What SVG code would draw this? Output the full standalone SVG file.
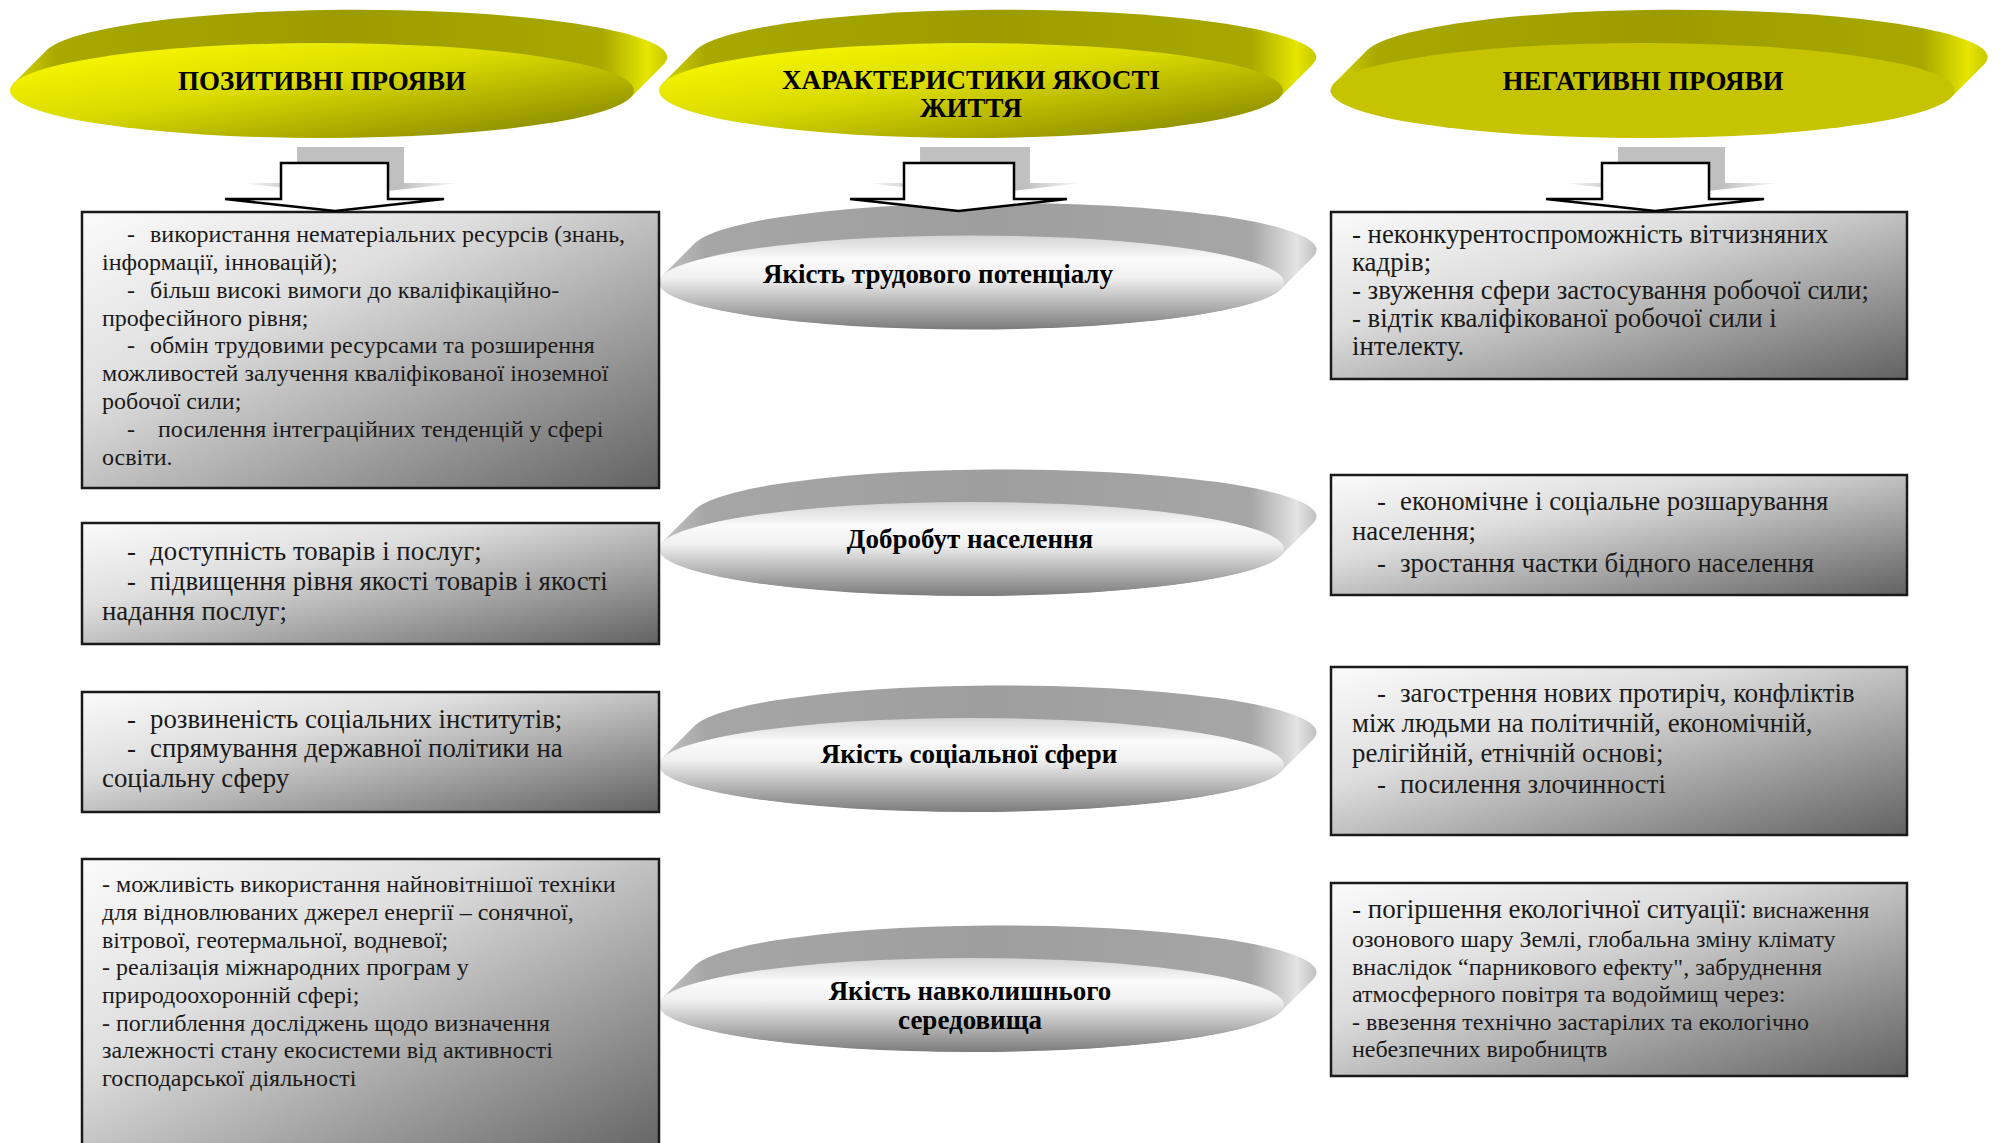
<svg xmlns="http://www.w3.org/2000/svg" width="1999" height="1143" viewBox="0 0 1999 1143">
<defs>
<linearGradient id="yFront" x1="0" y1="0" x2="1" y2="1">
<stop offset="0" stop-color="#ffff00"/><stop offset="0.45" stop-color="#dada00"/><stop offset="1" stop-color="#7a7a00"/>
</linearGradient>
<linearGradient id="yExt" x1="0" y1="0" x2="1" y2="0">
<stop offset="0" stop-color="#d8d800"/><stop offset="0.07" stop-color="#a8a800"/><stop offset="0.5" stop-color="#9c9c00"/><stop offset="0.9" stop-color="#a8a800"/><stop offset="0.97" stop-color="#e6e600"/><stop offset="1" stop-color="#c8c800"/>
</linearGradient>
<linearGradient id="gFront" x1="0" y1="0" x2="0" y2="1">
<stop offset="0" stop-color="#d4d4d4"/><stop offset="0.25" stop-color="#fbfbfb"/><stop offset="0.45" stop-color="#f0f0f0"/><stop offset="1" stop-color="#7c7c7c"/>
</linearGradient>
<linearGradient id="gExt" x1="0" y1="0" x2="1" y2="0">
<stop offset="0" stop-color="#c4c4c4"/><stop offset="0.07" stop-color="#a6a6a6"/><stop offset="0.5" stop-color="#9e9e9e"/><stop offset="0.9" stop-color="#a6a6a6"/><stop offset="0.97" stop-color="#e4e4e4"/><stop offset="1" stop-color="#c0c0c0"/>
</linearGradient>
<linearGradient id="boxFill" x1="0" y1="0" x2="1" y2="1">
<stop offset="0" stop-color="#fbfbfb"/><stop offset="0.35" stop-color="#dedede"/><stop offset="1" stop-color="#626262"/>
</linearGradient>
<linearGradient id="shadowFill" x1="0" y1="0" x2="1" y2="0">
<stop offset="0" stop-color="#c0c0c0" stop-opacity="0"/><stop offset="0.26" stop-color="#c0c0c0"/><stop offset="0.74" stop-color="#c0c0c0"/><stop offset="1" stop-color="#c0c0c0" stop-opacity="0"/>
</linearGradient>
<style>
.hdr{font-family:"Liberation Serif","Times New Roman",serif;font-weight:bold;font-size:27px;fill:#000;text-anchor:middle}
.dsk{font-family:"Liberation Serif","Times New Roman",serif;font-weight:bold;font-size:27px;fill:#000;text-anchor:middle}
.t{font-family:"Liberation Serif","Times New Roman",serif;font-size:24px;fill:#1a1a1a}
.tl{font-family:"Liberation Serif","Times New Roman",serif;font-size:26.8px;fill:#1a1a1a}
.box{fill:url(#boxFill);stroke:#1a1a1a;stroke-width:2.5}
.arrow{fill:#fff;stroke:#000;stroke-width:2.5;stroke-linejoin:miter}
.shadow{fill:url(#shadowFill)}
</style>
</defs>
<rect width="1999" height="1143" fill="#fff"/>

<!-- headers -->
<g id="header-positive">
<path d="M630.4,97.65 L664.4,63.65 A312,47.5 0 0 0 47.6,49.35 L13.6,83.35 A312,47.5 0 0 0 630.4,97.65 Z" fill="url(#yExt)"/>
<ellipse cx="322" cy="90.5" rx="312" ry="47.5" fill="url(#yFront)"/>
<text class="hdr" x="322" y="90">ПОЗИТИВНІ ПРОЯВИ</text>
</g>
<g id="header-characteristics">
<path d="M1279.4,97.65 L1313.4,63.65 A312,47.5 0 0 0 696.6,49.35 L662.6,83.35 A312,47.5 0 0 0 1279.4,97.65 Z" fill="url(#yExt)"/>
<ellipse cx="971" cy="90.5" rx="312" ry="47.5" fill="url(#yFront)"/>
<text class="hdr" x="971" y="89">ХАРАКТЕРИСТИКИ ЯКОСТІ</text>
<text class="hdr" x="971" y="117">ЖИТТЯ</text>
</g>
<g id="header-negative">
<path d="M1950.9,97.65 L1984.9,63.65 A312,47.5 0 0 0 1368.1,49.35 L1334.1,83.35 A312,47.5 0 0 0 1950.9,97.65 Z" fill="url(#yExt)"/>
<ellipse cx="1642.5" cy="90.5" rx="312" ry="47.5" fill="#c6c300"/>
<text class="hdr" x="1643" y="90">НЕГАТИВНІ ПРОЯВИ</text>
</g>

<!-- middle disks -->
<g id="disk-labour">
<path d="M1280.5,289.5 L1313.5,256.5 A312.5,47 0 0 0 695.5,242.5 L662.5,275.5 A312.5,47 0 0 0 1280.5,289.5 Z" fill="url(#gExt)"/>
<ellipse cx="971.5" cy="282.5" rx="312.5" ry="47" fill="url(#gFront)"/>
<text class="dsk" x="938" y="283">Якість трудового потенціалу</text>
</g>
<g id="disk-welfare">
<path d="M1280.5,556 L1313.5,523 A312.5,47 0 0 0 695.5,509 L662.5,542 A312.5,47 0 0 0 1280.5,556 Z" fill="url(#gExt)"/>
<ellipse cx="971.5" cy="549" rx="312.5" ry="47" fill="url(#gFront)"/>
<text class="dsk" x="970" y="548">Добробут населення</text>
</g>
<g id="disk-social">
<path d="M1280.5,772 L1313.5,739 A312.5,47 0 0 0 695.5,725 L662.5,758 A312.5,47 0 0 0 1280.5,772 Z" fill="url(#gExt)"/>
<ellipse cx="971.5" cy="765" rx="312.5" ry="47" fill="url(#gFront)"/>
<text class="dsk" x="969" y="763">Якість соціальної сфери</text>
</g>
<g id="disk-environment">
<path d="M1280.5,1012 L1313.5,979 A312.5,47 0 0 0 695.5,965 L662.5,998 A312.5,47 0 0 0 1280.5,1012 Z" fill="url(#gExt)"/>
<ellipse cx="971.5" cy="1005" rx="312.5" ry="47" fill="url(#gFront)"/>
<text class="dsk" x="970" y="1000">Якість навколишнього</text>
<text class="dsk" x="970" y="1029">середовища</text>
</g>

<!-- left boxes -->
<g id="box-pos-1">
<rect class="box" x="82" y="212" width="577" height="276"/>
<text class="t"><tspan x="127" y="242">-</tspan><tspan x="150" y="242">використання нематеріальних ресурсів (знань,</tspan>
<tspan x="102" y="270">інформації, інновацій);</tspan>
<tspan x="127" y="298">-</tspan><tspan x="150" y="298">більш високі вимоги до кваліфікаційно-</tspan>
<tspan x="102" y="326">професійного рівня;</tspan>
<tspan x="127" y="353">-</tspan><tspan x="150" y="353">обмін трудовими ресурсами та розширення</tspan>
<tspan x="102" y="381">можливостей залучення кваліфікованої іноземної</tspan>
<tspan x="102" y="409">робочої сили;</tspan>
<tspan x="127" y="437">-</tspan><tspan x="158" y="437">посилення інтеграційних тенденцій у сфері</tspan>
<tspan x="102" y="465">освіти.</tspan></text>
</g>
<g id="box-pos-2">
<rect class="box" x="82" y="523" width="577" height="121"/>
<text class="tl"><tspan x="127" y="560">-</tspan><tspan x="150" y="560">доступність товарів і послуг;</tspan>
<tspan x="127" y="590">-</tspan><tspan x="150" y="590">підвищення рівня якості товарів і якості</tspan>
<tspan x="102" y="620">надання послуг;</tspan></text>
</g>
<g id="box-pos-3">
<rect class="box" x="82" y="692" width="577" height="120"/>
<text class="tl"><tspan x="127" y="728">-</tspan><tspan x="150" y="728">розвиненість соціальних інститутів;</tspan>
<tspan x="127" y="757">-</tspan><tspan x="150" y="757">спрямування державної політики на</tspan>
<tspan x="102" y="787">соціальну сферу</tspan></text>
</g>
<g id="box-pos-4">
<rect class="box" x="82" y="859" width="577" height="300"/>
<text class="t"><tspan x="102" y="892">- можливість використання найновітнішої техніки</tspan>
<tspan x="102" y="920">для відновлюваних джерел енергії – сонячної,</tspan>
<tspan x="102" y="948">вітрової, геотермальної, водневої;</tspan>
<tspan x="102" y="975">- реалізація міжнародних програм у</tspan>
<tspan x="102" y="1003">природоохоронній сфері;</tspan>
<tspan x="102" y="1031">- поглиблення досліджень щодо визначення</tspan>
<tspan x="102" y="1058">залежності стану екосистеми від активності</tspan>
<tspan x="102" y="1086">господарської діяльності</tspan></text>
</g>

<!-- right boxes -->
<g id="box-neg-1">
<rect class="box" x="1331" y="212" width="576" height="167"/>
<text class="tl"><tspan x="1352" y="243">- неконкурентоспроможність вітчизняних</tspan>
<tspan x="1352" y="271">кадрів;</tspan>
<tspan x="1352" y="299">- звуження сфери застосування робочої сили;</tspan>
<tspan x="1352" y="327">- відтік кваліфікованої робочої сили і</tspan>
<tspan x="1352" y="355">інтелекту.</tspan></text>
</g>
<g id="box-neg-2">
<rect class="box" x="1331" y="475" width="576" height="120"/>
<text class="tl"><tspan x="1377" y="510">-</tspan><tspan x="1400" y="510">економічне і соціальне розшарування</tspan>
<tspan x="1352" y="540">населення;</tspan>
<tspan x="1377" y="572">-</tspan><tspan x="1400" y="572">зростання частки бідного населення</tspan></text>
</g>
<g id="box-neg-3">
<rect class="box" x="1331" y="667" width="576" height="168"/>
<text class="tl"><tspan x="1377" y="702">-</tspan><tspan x="1400" y="702">загострення нових протиріч, конфліктів</tspan>
<tspan x="1352" y="732">між людьми на політичній, економічній,</tspan>
<tspan x="1352" y="762">релігійній, етнічній основі;</tspan>
<tspan x="1377" y="793">-</tspan><tspan x="1400" y="793">посилення злочинності</tspan></text>
</g>
<g id="box-neg-4">
<rect class="box" x="1331" y="883" width="576" height="193"/>
<text class="t"><tspan x="1352" y="918" font-size="27">- погіршення екологічної ситуації:</tspan><tspan font-size="23"> виснаження</tspan>
<tspan x="1352" y="947">озонового шару Землі, глобальна зміну клімату</tspan>
<tspan x="1352" y="975">внаслідок “парникового ефекту", забруднення</tspan>
<tspan x="1352" y="1002">атмосферного повітря та водоймищ через:</tspan>
<tspan x="1352" y="1030">- ввезення технічно застарілих та екологічно</tspan>
<tspan x="1352" y="1057">небезпечних виробництв</tspan></text>
</g>

<!-- connectors -->
<g id="connectors">
<polygon class="shadow" points="297,147 404,147 404,183 460,183 351,195 241,183 297,183"/>
<polygon class="arrow" points="281,163 388,163 388,199 444,199 335,211 225,199 281,199"/>
<polygon class="shadow" points="920,147 1030,147 1030,183 1083,183 974.5,195 866,183 920,183"/>
<polygon class="arrow" points="904,163 1014,163 1014,199 1067,199 958.5,211 850,199 904,199"/>
<polygon class="shadow" points="1618,147 1725,147 1725,183 1780,183 1671,195 1562,183 1618,183"/>
<polygon class="arrow" points="1602,163 1709,163 1709,199 1764,199 1655,211 1546,199 1602,199"/>
</g>
</svg>
